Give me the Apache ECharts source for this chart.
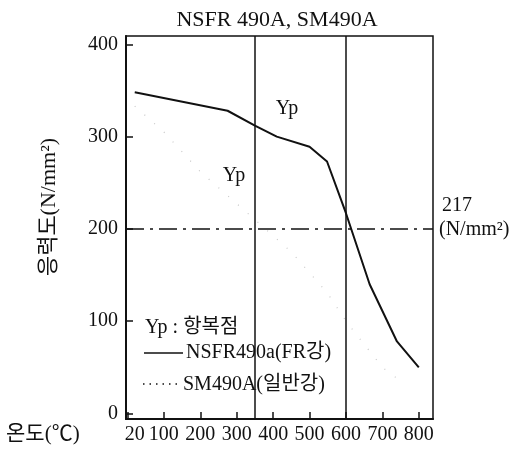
<!DOCTYPE html>
<html>
<head>
<meta charset="utf-8">
<script src="https://cdn.jsdelivr.net/npm/echarts@6/dist/echarts.min.js"></script>
<style>
  html, body { margin: 0; padding: 0; background: #fff; }
  #chart { width: 526px; height: 450px; }
</style>
</head>
<body>
<div id="chart"></div>
<script>
// NSFR490A (FR steel) yield point vs temperature
const tempNSFR = [20, 275, 350, 410, 500, 548, 600, 665, 740, 800];
const stressNSFR = [348, 328, 312, 300, 289, 273, 217, 140, 78, 50];
// SM490A (ordinary steel), faint dotted curve
const tempSM = [20, 100, 200, 350, 450, 550, 600, 700, 750];
const stressSM = [333, 305, 262, 210, 175, 130, 100, 50, 35];

const xTickValues = [0, 100, 200, 300, 400, 500, 600, 700, 800];
const xLabelValues = [20, 100, 200, 300, 400, 500, 600, 700, 800];
const yTickValues = [0, 100, 200, 300, 400];
const refTemps = [350, 600];
const refStress = 200;

const FONT = '"Liberation Serif", "Noto Sans CJK KR", serif';

const chart = echarts.init(document.getElementById('chart'));

function pairs(xs, ys) {
  return xs.map((x, i) => [x, ys[i]]);
}

const option = {
  animation: false,
  textStyle: { fontFamily: FONT, color: '#111' },
  title: {
    text: 'NSFR 490A, SM490A',
    left: 272,
    top: 4,
    textAlign: 'center',
    textStyle: { fontFamily: FONT, fontSize: 22, fontWeight: 'normal', color: '#111' }
  },
  grid: {
    left: 126, right: 93, top: 36, bottom: 31,
    show: true, borderColor: '#111', borderWidth: 1.5
  },
  xAxis: {
    type: 'value',
    min: -4, max: 839,
    axisLine: { show: true, onZero: false, lineStyle: { color: '#111', width: 2 } },
    axisTick: { inside: true, length: 7, customValues: xTickValues, lineStyle: { color: '#111', width: 1.5 } },
    axisLabel: {
      customValues: xLabelValues, margin: 6,
      fontFamily: FONT, fontSize: 20, color: '#111'
    },
    splitLine: { show: false }
  },
  yAxis: {
    type: 'value',
    min: -6, max: 409,
    axisLine: { show: true, onZero: false, lineStyle: { color: '#111', width: 2 } },
    axisTick: { show: true, inside: true, length: 7, customValues: yTickValues, lineStyle: { color: '#111', width: 1.5 } },
    axisLabel: {
      customValues: yTickValues, margin: 8,
      fontFamily: FONT, fontSize: 20, color: '#111'
    },
    splitLine: { show: false }
  },
  series: [
    {
      name: 'SM490A',
      type: 'line',
      data: pairs(tempSM, stressSM),
      showSymbol: false,
      lineStyle: { color: '#c8c8c8', width: 1.2, type: [1, 12] },
      z: 2
    },
    {
      name: 'NSFR490a',
      type: 'line',
      data: pairs(tempNSFR, stressNSFR),
      showSymbol: false,
      lineStyle: { color: '#111', width: 2 },
      z: 3,
      markLine: {
        silent: true,
        symbol: 'none',
        label: { show: false },
        data: [
          ...refTemps.map(t => ({ xAxis: t, lineStyle: { color: '#111', width: 1.5, type: 'solid' } })),
          { yAxis: refStress, lineStyle: { color: '#111', width: 1.5, type: [18, 6, 3, 6] } }
        ]
      }
    }
  ],
  graphic: [
    {
      type: 'text', x: 49, y: 207, rotation: Math.PI / 2,
      style: { text: '응력도(N/mm²)', font: '22px ' + FONT, fill: '#111', align: 'center', verticalAlign: 'middle' }
    },
    {
      type: 'text', x: 6, y: 434,
      style: { text: '온도(℃)', font: '21px ' + FONT, fill: '#111', align: 'left', verticalAlign: 'middle' }
    },
    {
      type: 'text', x: 287, y: 109,
      style: { text: 'Yp', font: '20px ' + FONT, fill: '#111', align: 'center', verticalAlign: 'middle' }
    },
    {
      type: 'text', x: 234, y: 176,
      style: { text: 'Yp', font: '20px ' + FONT, fill: '#111', align: 'center', verticalAlign: 'middle' }
    },
    {
      type: 'text', x: 442, y: 206,
      style: { text: '217', font: '20px ' + FONT, fill: '#111', align: 'left', verticalAlign: 'middle' }
    },
    {
      type: 'text', x: 439, y: 230,
      style: { text: '(N/mm²)', font: '20px ' + FONT, fill: '#111', align: 'left', verticalAlign: 'middle' }
    },
    {
      type: 'text', x: 145, y: 328,
      style: { text: 'Yp : 항복점', font: '20px ' + FONT, fill: '#111', align: 'left', verticalAlign: 'middle', backgroundColor: '#fff' }
    },
    {
      type: 'line', shape: { x1: 144, y1: 353, x2: 183, y2: 353 },
      style: { stroke: '#111', lineWidth: 1.5 }
    },
    {
      type: 'text', x: 186, y: 353,
      style: { text: 'NSFR490a(FR강)', font: '20px ' + FONT, fill: '#111', align: 'left', verticalAlign: 'middle', backgroundColor: '#fff' }
    },
    {
      type: 'line', shape: { x1: 143, y1: 384, x2: 181, y2: 384 },
      style: { stroke: '#111', lineWidth: 1.5, lineDash: [1.5, 5] }
    },
    {
      type: 'text', x: 183, y: 385,
      style: { text: 'SM490A(일반강)', font: '20px ' + FONT, fill: '#111', align: 'left', verticalAlign: 'middle', backgroundColor: '#fff' }
    }
  ]
};

chart.setOption(option);
</script>
</body>
</html>
